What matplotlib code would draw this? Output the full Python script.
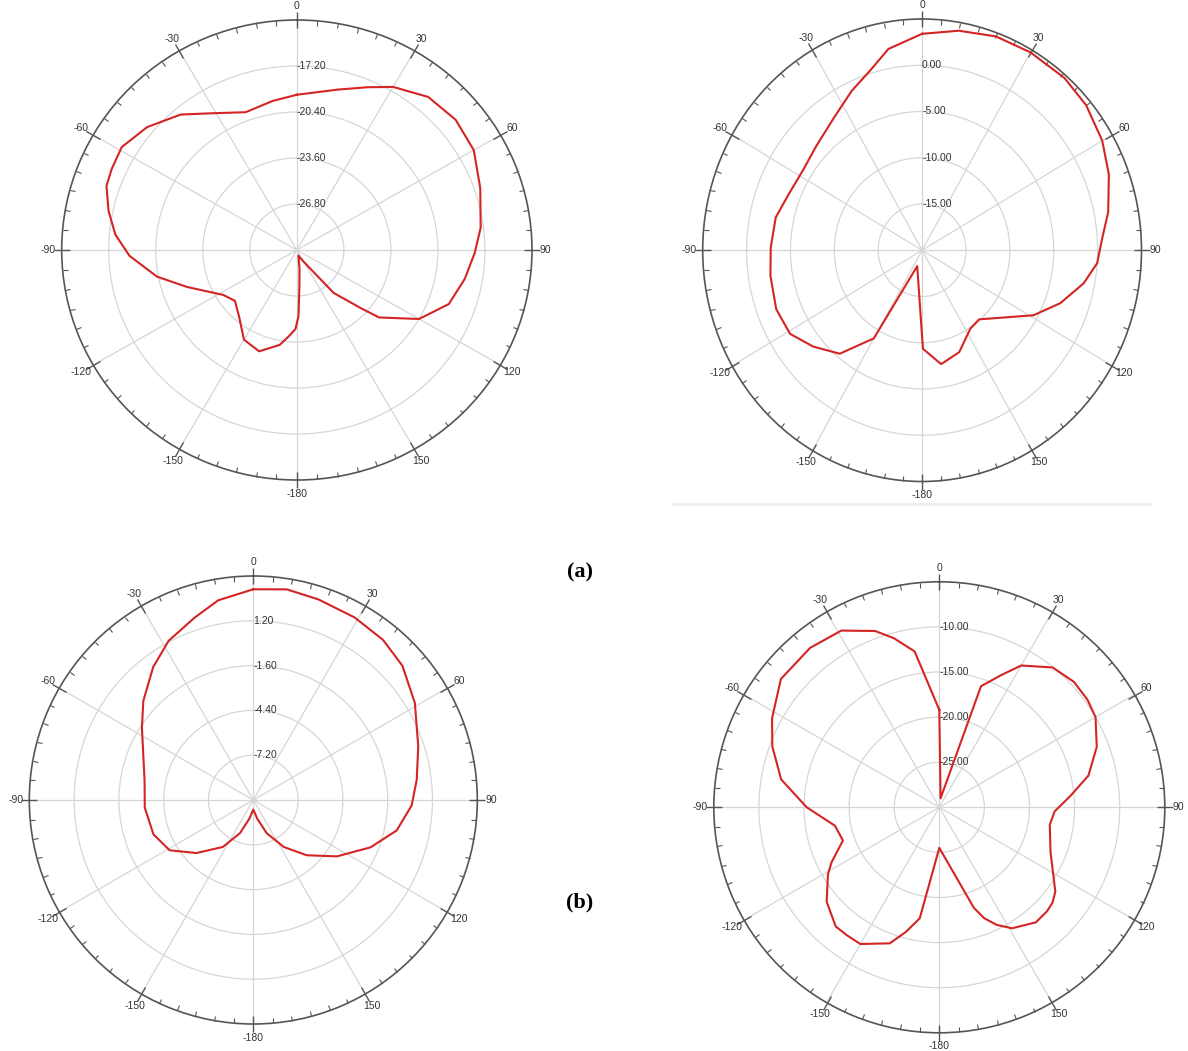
import numpy as np
import matplotlib
matplotlib.use('Agg')
import matplotlib.pyplot as plt
from matplotlib.lines import Line2D

plt.rcParams['font.family'] = ['Liberation Sans', 'DejaVu Sans']

# ---------------- data (angle in degrees, gain in dB) ----------------
theta_a1 = [0, 14, 23, 30, 40, 50, 60, 71, 83, 91, 100, 110, 120, 130, 133, 140, 151, 165,
            172, 176, 178.6, 181, 185, 190, 200, 210, 220, 230, 238, 251, 259, 268, 275, 282,
            289, 294, 301, 310, 320, 329, 340, 351, 360]
gain_a1 = [-19.2, -18.5, -17.7, -16.9, -16.1, -15.9, -16.1, -16.8, -17.4, -17.9, -18.4, -19.0,
           -20.4, -22.7, -24.1, -26.1, -29.1, -29.6, -28.7, -27.5, -25.4, -24.5, -24.0, -23.3,
           -22.5, -22.8, -23.9, -24.5, -24.1, -22.1, -20.3, -18.6, -17.6, -16.9, -16.3, -16.2,
           -16.1, -16.7, -17.7, -18.9, -19.8, -19.5, -19.2]

theta_a2 = [0, 10, 20, 30, 41, 50, 60, 69, 79, 87, 94, 101, 110, 119, 139, 147, 159, 170,
            179.5, 198, 210, 220, 230, 239, 249, 261, 271, 282, 291, 303, 313, 325, 335, 343,
            350, 360]
gain_a2 = [3.4, 4.1, 4.6, 4.7, 4.7, 4.4, 3.7, 2.8, 1.6, 0.5, 0.0, -1.25, -3.25, -5.5, -10.1,
           -9.9, -8.2, -7.5, -9.35, -18.2, -9.0, -5.4, -3.8, -2.45, -2.2, -2.5, -2.75, -2.95,
           -3.6, -3.9, -3.5, -2.5, -1.0, 0.3, 2.1, 3.4]

theta_b1 = [0, 9, 18, 29, 39, 48, 59, 72, 83, 92, 102, 112, 124, 136, 147, 158, 168, 180,
            192, 202, 213, 227, 239, 251, 266, 280, 290, 303, 312, 323, 332, 342, 350, 360]
gain_b1 = [3.17, 3.33, 3.18, 3.05, 2.88, 2.54, 1.78, 0.84, 0.29, -0.1, -0.84, -2.1, -3.7,
           -5.2, -6.5, -7.76, -8.8, -9.4, -8.8, -7.76, -6.5, -5.14, -3.9, -3.4, -3.2, -3.1,
           -2.7, -1.7, -0.75, 0.4, 1.27, 1.96, 2.67, 3.17]

theta_b2 = [0, 8, 19, 25, 30, 39, 47, 54, 60, 69, 78, 85, 92, 99, 112, 126, 130, 134, 140,
            149, 154, 158, 161, 180, 190, 195, 200, 210, 216, 221, 230, 239, 243, 251, 260,
            270, 280, 290, 298, 309, 321, 331, 340, 345, 351, 360]
gain_b2 = [-19.2, -29.0, -15.8, -13.85, -11.85, -10.05, -9.6, -9.7, -10.0, -11.3, -13.1,
           -15.4, -17.2, -17.6, -16.7, -14.1, -13.6, -13.4, -13.35, -14.35, -15.5, -16.75,
           -18.2, -25.5, -17.5, -15.7, -13.95, -12.5, -12.5, -12.5, -13.7, -15.6, -16.6,
           -18.7, -18.25, -15.3, -12.2, -10.3, -9.0, -7.4, -7.25, -7.6, -9.2, -10.6, -12.5,
           -19.2]

rings_a1 = [-26.8, -23.6, -20.4, -17.2]
rings_a2 = [-15.0, -10.0, -5.0, 0.0]
rings_b1 = [-7.2, -4.4, -1.6, 1.2]
rings_b2 = [-25.0, -20.0, -15.0, -10.0]
limits_a1 = (-30.0, -14.0)
limits_a2 = (-20.0, 5.0)
limits_b1 = (-10.0, 4.0)
limits_b2 = (-30.0, -5.0)

angle_ticks = list(range(0, 360, 30))
angle_labels = ['0', '30', '60', '90', '120', '150', '-180', '-150', '-120', '-90', '-60', '-30']

# ---------------- figure ----------------
W, H = 1188, 1051
fig = plt.figure(figsize=(W / 100, H / 100), dpi=100)

LINE_COLOR = '#d42424'
GRID_COLOR = '#d6d6d6'
AXIS_COLOR = '#555555'
TEXT_COLOR = '#333333'


def add_polar(box, limits, rings, theta, gain):
    x0, y0, x1, y1 = box
    ax = fig.add_axes([x0 / W, 1 - y1 / H, (x1 - x0) / W, (y1 - y0) / H], projection='polar')
    ax.set_aspect('auto')
    ax.set_theta_zero_location('N')
    ax.set_theta_direction(-1)
    ax.set_ylim(*limits)
    ax.set_yticks(rings)
    ax.set_yticklabels([])
    ax.set_xticks(np.radians(angle_ticks))
    ax.set_xticklabels(angle_labels)
    ax.set_xticks(np.radians(np.arange(0, 360, 5)), minor=True)
    ax.grid(True, which='major', color=GRID_COLOR, lw=0.9)
    ax.spines['polar'].set_color(AXIS_COLOR)
    ax.spines['polar'].set_linewidth(1.2)
    ax.tick_params(axis='x', which='both', bottom=False, top=True)
    ax.tick_params(axis='x', which='major', direction='inout', length=5.5, width=1.0,
                   color=AXIS_COLOR, labelsize=7.5, labelcolor=TEXT_COLOR, pad=0)
    ax.tick_params(axis='x', which='minor', direction='in', length=3.5, width=0.8,
                   color=AXIS_COLOR)
    ax.tick_params(axis='y', length=0)
    for v in rings:
        ax.text(0, v, f'{v:.2f}', ha='left', va='center', fontsize=7.5, color=TEXT_COLOR)
    ax.plot(np.radians(theta), gain, color=LINE_COLOR, lw=1.5, zorder=5)
    return ax


add_polar((61.7, 20.0, 532.0, 480.0), limits_a1, rings_a1, theta_a1, gain_a1)
add_polar((702.7, 19.0, 1141.5, 481.5), limits_a2, rings_a2, theta_a2, gain_a2)
add_polar((29.3, 576.0, 477.3, 1024.0), limits_b1, rings_b1, theta_b1, gain_b1)
add_polar((713.8, 581.8, 1164.8, 1032.8), limits_b2, rings_b2, theta_b2, gain_b2)

fig.add_artist(Line2D([673 / W, 1150 / W], [1 - 504 / H, 1 - 504 / H],
                      color='#eeeeee', lw=2))

fig.text(580 / W, 1 - 572 / H, '(a)', family='Liberation Serif', weight='bold',
         fontsize=16, ha='center', va='center')
fig.text(580 / W, 1 - 902 / H, '(b)', family='Liberation Serif', weight='bold',
         fontsize=16, ha='center', va='center')

fig.savefig('out.png', dpi=100, facecolor='white')
